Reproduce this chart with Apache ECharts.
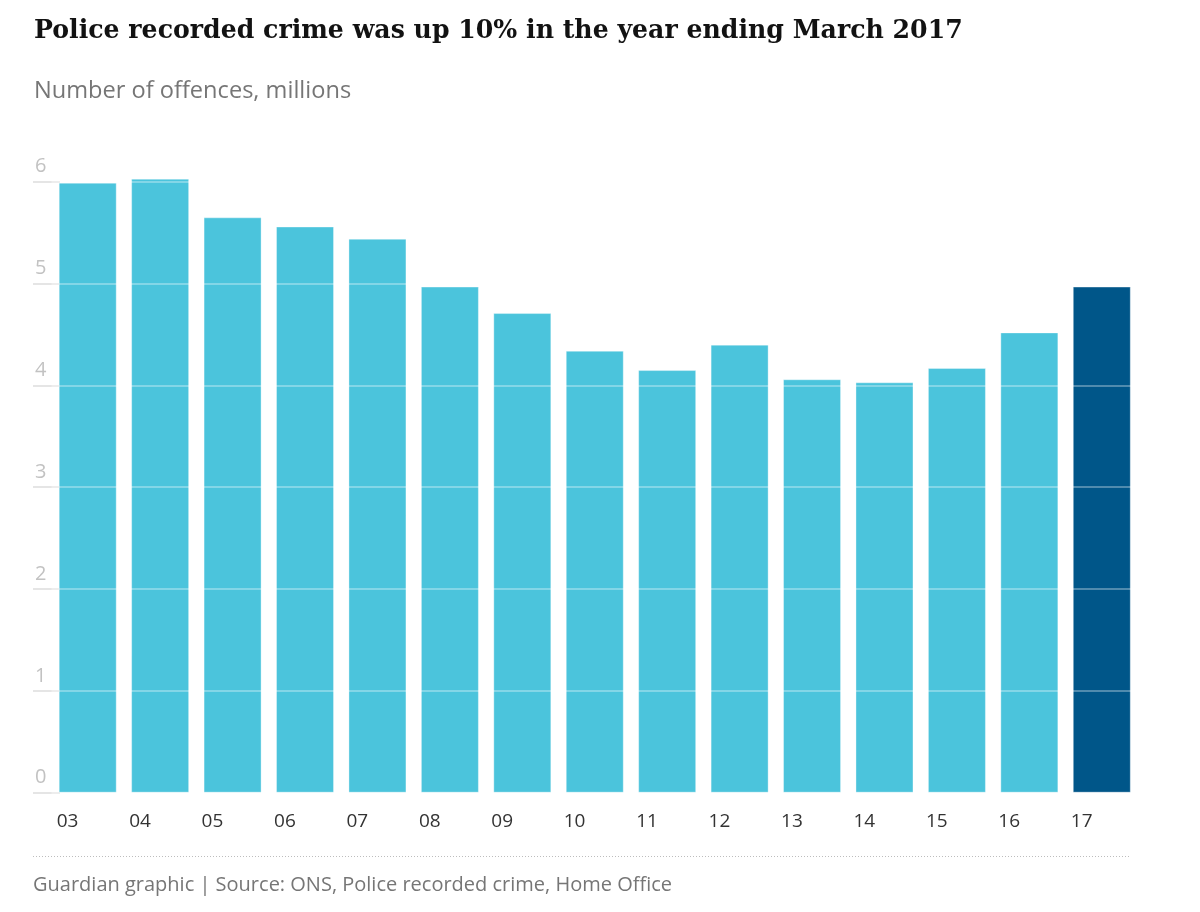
<!DOCTYPE html>
<html>
<head>
<meta charset="utf-8">
<script src="https://cdn.jsdelivr.net/npm/echarts@6/dist/echarts.min.js"></script>
<style>
html,body{margin:0;padding:0;background:#fff;}
#chart{width:1200px;height:912px;}
</style>
</head>
<body>
<div id="chart"></div>
<script>
const categories = ['03','04','05','06','07','08','09','10','11','12','13','14','15','16','17'];
const offences = [5.99, 6.03, 5.65, 5.56, 5.44, 4.97, 4.71, 4.34, 4.15, 4.40, 4.06, 4.03, 4.17, 4.52, 4.97];
const yTicks = [0, 1, 2, 3, 4, 5, 6];
const highlightCategory = '17';

const titleText = 'Police recorded crime was up 10% in the year ending March 2017';
const subtitleText = 'Number of offences, millions';
const footerText = 'Guardian graphic | Source: ONS, Police recorded crime, Home Office';

const BASE = '#4bc4dc';
const HIGHLIGHT = '#005689';

const chart = echarts.init(document.getElementById('chart'));

const barData = offences.map((v, i) => ({
  value: v,
  itemStyle: { color: categories[i] === highlightCategory ? HIGHLIGHT : BASE }
}));

const yMin = yTicks[0], yMax = yTicks[yTicks.length - 1], yStep = yTicks[1] - yTicks[0];

const option = {
  animation: false,
  backgroundColor: '#fff',
  title: [
    { text: titleText, left: 34, top: 19, padding: 0,
      textStyle: { fontFamily: 'DejaVu Serif', fontWeight: 'bold', fontSize: 25.2, color: '#121212' } },
    { text: subtitleText, left: 34, top: 79, padding: 0,
      textStyle: { fontFamily: 'Open Sans', fontWeight: 'normal', fontSize: 23.6, color: '#767676' } }
  ],
  grid: [
    { left: 51.5, right: 62, top: 181.7, bottom: 119.3 },
    { left: 33, width: 27, top: 181.7, bottom: 119.3 }
  ],
  xAxis: [
    { type: 'category', gridIndex: 0, data: categories,
      axisLine: { show: false }, axisTick: { show: false },
      axisLabel: {
        margin: 19,
        align: 'center',
        formatter: v => '{a|' + v + '}',
        rich: { a: { width: 62, align: 'left', fontFamily: 'Open Sans', fontSize: 19, color: '#333' } }
      }
    },
    { type: 'value', gridIndex: 1, min: 0, max: 1, show: false }
  ],
  yAxis: [
    { type: 'value', gridIndex: 0, min: yMin, max: yMax, interval: yStep, z: 5,
      axisLine: { show: false }, axisTick: { show: false }, axisLabel: { show: false },
      splitLine: { show: true, lineStyle: { color: 'rgba(255,255,255,0.42)', width: 1.5 } } },
    { type: 'value', gridIndex: 1, min: yMin, max: yMax, interval: yStep,
      axisLine: { show: false }, axisTick: { show: false },
      axisLabel: { inside: true, margin: 2, verticalAlign: 'bottom', align: 'left',
        padding: [0, 0, 5, 0], fontFamily: 'Open Sans', fontSize: 20, color: '#c2c2c2' },
      splitLine: { show: true, lineStyle: { color: '#dcdcdc', width: 1.5 } } }
  ],
  series: [
    { type: 'bar', xAxisIndex: 0, yAxisIndex: 0, data: barData, barWidth: 58, clip: false,
      itemStyle: { borderColor: 'rgba(255,255,255,0.35)', borderWidth: 1 } }
  ],
  graphic: [
    { type: 'line', shape: { x1: 33, y1: 856.5, x2: 1131, y2: 856.5 },
      style: { stroke: '#bdbdbd', lineWidth: 1, lineDash: [1, 2] } },
    { type: 'text', left: 33, top: 875,
      style: { text: footerText, fontFamily: 'Open Sans', fontSize: 20, fill: '#767676' } }
  ]
};
chart.setOption(option);
</script>
</body>
</html>
